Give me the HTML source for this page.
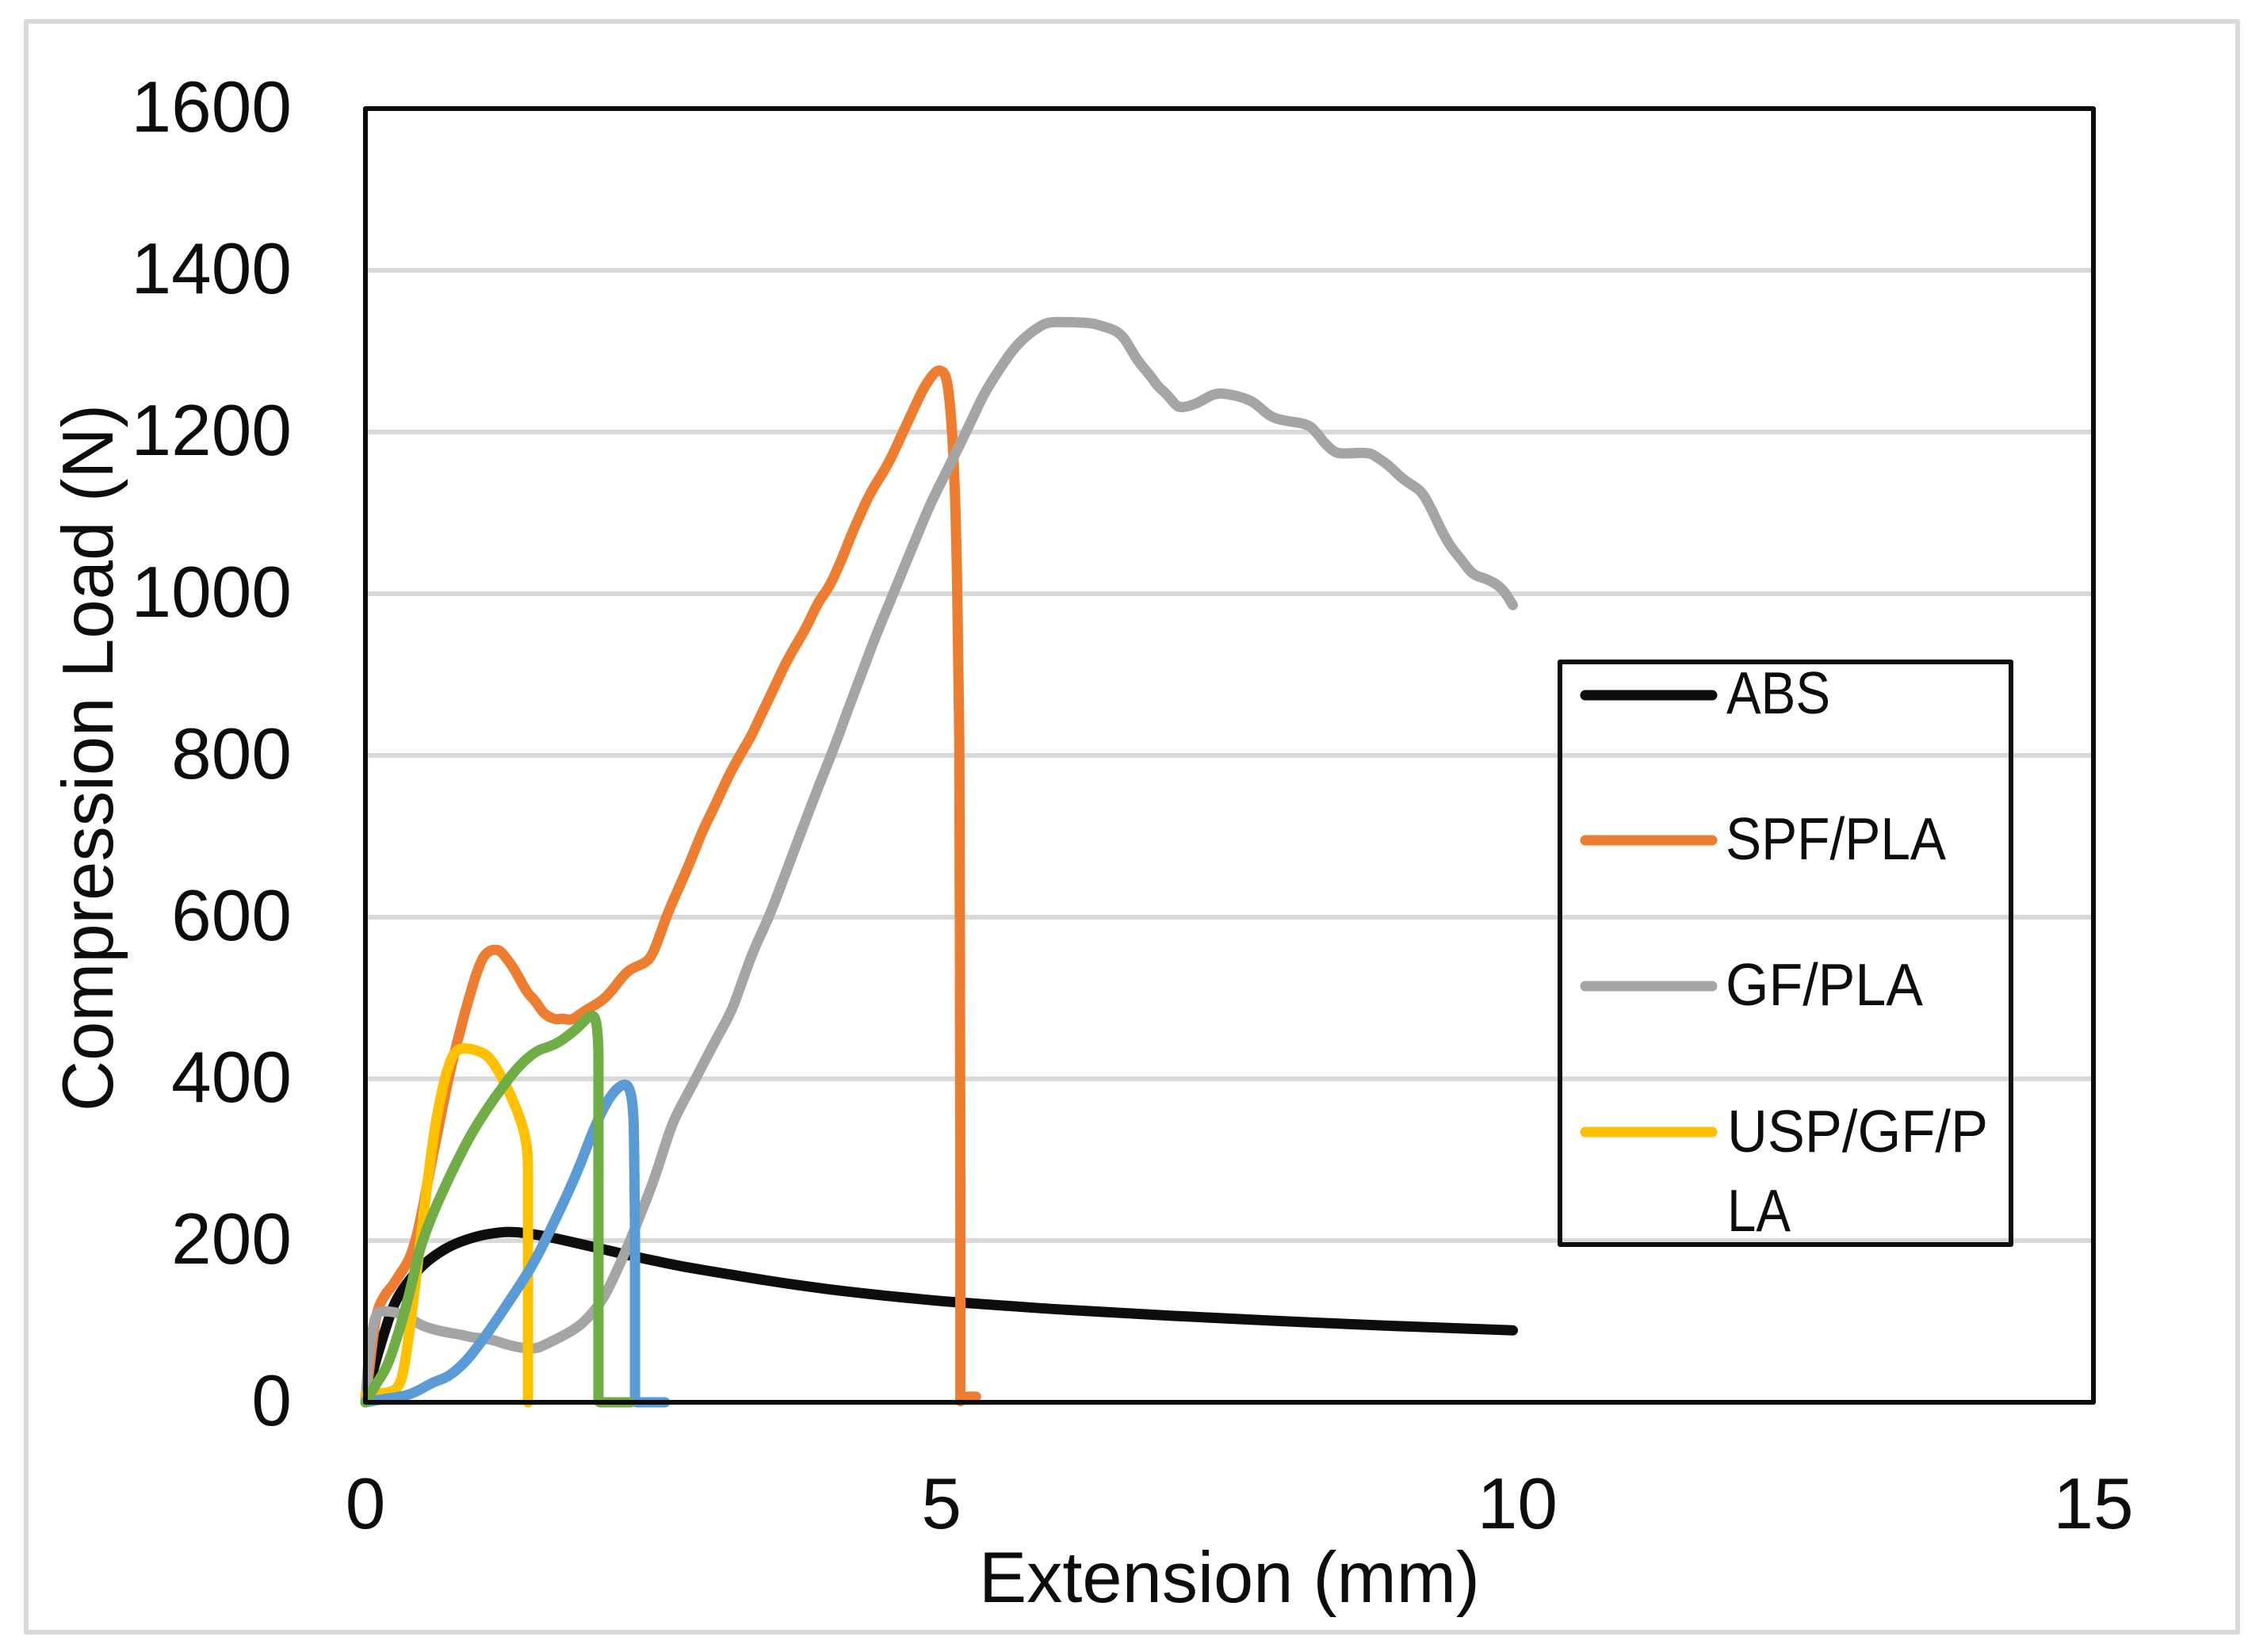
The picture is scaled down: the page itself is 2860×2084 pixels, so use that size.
<!DOCTYPE html>
<html lang="en">
<head>
<meta charset="utf-8">
<title>Compression Load vs Extension</title>
<style>
html,body{margin:0;padding:0;background:#fff;}
svg{display:block;}
text{font-family:"Liberation Sans",sans-serif;fill:#0d0d0d;}
</style>
</head>
<body>
<svg id="chart" xmlns="http://www.w3.org/2000/svg" width="2860" height="2084" viewBox="0 0 2860 2084">
  <rect x="0" y="0" width="2860" height="2084" fill="#ffffff"/>
  <rect x="33" y="27" width="2790" height="2032" fill="none" stroke="#d9d9d9" stroke-width="6" stroke-linejoin="round"/>
  <g id="grid"></g>
  <g id="yticks"></g>
  <g id="xticks"></g>
  <text x="1551" y="2021" font-size="91" text-anchor="middle" textLength="632" lengthAdjust="spacingAndGlyphs">Extension (mm)</text>
  <text transform="translate(142 956) rotate(-90)" font-size="91" text-anchor="middle" textLength="892" lengthAdjust="spacingAndGlyphs">Compression Load (N)</text>
  <g id="series"></g>
  <rect x="461" y="137" width="2180" height="1632" fill="none" stroke="#0d0d0d" stroke-width="6" stroke-linejoin="round"/>
  <g>
    <rect x="1968" y="835" width="569" height="735" fill="none" stroke="#0d0d0d" stroke-width="6" stroke-linejoin="round"/>
    <line x1="2000" y1="877" x2="2160" y2="877" stroke="#0d0d0d" stroke-width="13" stroke-linecap="round"/>
    <text x="2178" y="900" font-size="75" textLength="131" lengthAdjust="spacingAndGlyphs">ABS</text>
    <line x1="2000" y1="1060" x2="2160" y2="1060" stroke="#ed7d31" stroke-width="13" stroke-linecap="round"/>
    <text x="2177" y="1084" font-size="75" textLength="278" lengthAdjust="spacingAndGlyphs">SPF/PLA</text>
    <line x1="2000" y1="1244" x2="2160" y2="1244" stroke="#a5a5a5" stroke-width="13" stroke-linecap="round"/>
    <text x="2177" y="1268" font-size="75" textLength="249" lengthAdjust="spacingAndGlyphs">GF/PLA</text>
    <line x1="2000" y1="1428" x2="2160" y2="1428" stroke="#ffc000" stroke-width="13" stroke-linecap="round"/>
    <text x="2179" y="1453" font-size="75" textLength="329" lengthAdjust="spacingAndGlyphs">USP/GF/P</text>
    <text x="2179" y="1553" font-size="75" textLength="80" lengthAdjust="spacingAndGlyphs">LA</text>
  </g>
</svg>
<script>
const yTickValues = [0, 200, 400, 600, 800, 1000, 1200, 1400, 1600];
const xTickValues = [0, 5, 10, 15];

const absX = [0, 0.073, 0.154, 0.245, 0.36, 0.498, 0.635, 0.773, 0.956, 1.14, 1.278, 1.461, 1.644, 1.92, 2.195, 2.378, 2.745, 3.296, 3.6, 4, 4.5, 5, 6, 7, 8, 9, 9.96];
const absY = [0, 43, 82, 122, 148, 170, 185, 196, 205, 210, 211, 208, 203, 194, 185, 179, 168, 155, 148, 140, 132, 125, 115, 107, 100, 94, 89];

const spfX = [0, 0.053, 0.098, 0.167, 0.235, 0.292, 0.372, 0.429, 0.486, 0.566, 0.635, 0.715, 0.795, 0.886, 0.977, 1.046, 1.148, 1.205, 1.297, 1.4, 1.479, 1.548, 1.651, 1.719, 1.788, 1.89, 2.05, 2.14, 2.256, 2.333, 2.425, 2.482, 2.54, 2.62, 2.792, 2.93, 3.021, 3.159, 3.274, 3.343, 3.434, 3.469, 3.572, 3.664, 3.824, 3.927, 4.03, 4.143, 4.226, 4.385, 4.535, 4.673, 4.8, 4.856, 4.935, 4.983, 5.04, 5.073, 5.097, 5.12, 5.136, 5.155, 5.16, 5.165, 5.165, 5.18, 5.3];
const spfY = [0, 65, 113, 133, 144, 157, 174, 196, 231, 292, 340, 397, 445, 494, 537, 557, 561, 553, 535, 507, 496, 480, 473, 475, 472, 483, 496, 509, 531, 538, 543, 551, 571, 604, 659, 708, 734, 777, 806, 822, 850, 860, 891, 919, 957, 989, 1009, 1045, 1076, 1126, 1159, 1202, 1241, 1257, 1273, 1277, 1272, 1238, 1192, 1117, 1019, 822, 600, 200, 0, 7, 7];

const gfX = [0, 0.028, 0.062, 0.096, 0.154, 0.291, 0.429, 0.521, 0.681, 0.819, 0.933, 1.094, 1.232, 1.369, 1.484, 1.599, 1.805, 1.92, 2.057, 2.149, 2.287, 2.367, 2.493, 2.654, 2.723, 2.87, 2.999, 3.18, 3.25, 3.365, 3.503, 3.66, 3.8, 3.94, 4.075, 4.19, 4.28, 4.444, 4.58, 4.74, 4.9, 5.086, 5.224, 5.361, 5.464, 5.614, 5.73, 5.855, 5.935, 6.07, 6.3, 6.394, 6.509, 6.577, 6.635, 6.703, 6.818, 6.875, 6.956, 7.034, 7.08, 7.197, 7.288, 7.378, 7.495, 7.632, 7.722, 7.85, 7.977, 8.183, 8.264, 8.321, 8.41, 8.48, 8.71, 8.78, 8.89, 8.987, 9.078, 9.158, 9.237, 9.33, 9.42, 9.525, 9.615, 9.743, 9.87, 9.96];
const gfY = [0, 56, 91, 111, 113, 111, 100, 93, 87, 84, 80, 78, 71, 67, 66, 74, 89, 102, 126, 152, 196, 225, 270, 341, 362, 401, 437, 484, 512, 558, 600, 659, 712, 764, 812, 857, 891, 953, 999, 1055, 1110, 1163, 1203, 1245, 1269, 1301, 1318, 1331, 1336, 1336, 1335, 1331, 1326, 1318, 1305, 1288, 1269, 1257, 1247, 1233, 1230, 1234, 1241, 1248, 1247, 1242, 1236, 1219, 1214, 1210, 1198, 1187, 1175, 1173, 1175, 1169, 1158, 1144, 1135, 1128, 1110, 1081, 1058, 1040, 1023, 1018, 1007, 986];

const uspX = [0, 0.108, 0.245, 0.303, 0.337, 0.394, 0.475, 0.544, 0.612, 0.693, 0.761, 0.842, 0.979, 1.071, 1.163, 1.278, 1.369, 1.411, 1.411];
const uspY = [9, 11, 13, 23, 43, 100, 196, 279, 349, 404, 432, 439, 435, 428, 408, 375, 341, 310, 0];

const blueX = [0, 0.154, 0.314, 0.429, 0.589, 0.716, 0.865, 1.002, 1.14, 1.323, 1.461, 1.599, 1.759, 1.874, 1.989, 2.126, 2.241, 2.298, 2.328, 2.333, 2.34, 2.34, 2.6];
const blueY = [0, 4, 7, 12, 25, 31, 49, 74, 102, 141, 172, 211, 259, 297, 341, 380, 395, 389, 358, 305, 218, 0, 0];

const greenX = [0, 0.085, 0.188, 0.291, 0.383, 0.475, 0.589, 0.773, 0.933, 1.117, 1.323, 1.484, 1.599, 1.69, 1.828, 1.908, 1.961, 2.0, 2.023, 2.023, 2.3];
const greenY = [0, 21, 43, 87, 135, 192, 235, 292, 336, 376, 415, 435, 440, 446, 461, 473, 479, 476, 446, 0, 0];

const NS = 'http://www.w3.org/2000/svg';
function xScale(v) { return 461 + v * (2180 / 15); }
function yScale(v) { return 1769 - v * (1632 / 1600); }

const gridGroup = document.getElementById('grid');
const yTickGroup = document.getElementById('yticks');
const xTickGroup = document.getElementById('xticks');
const seriesGroup = document.getElementById('series');

yTickValues.forEach(function (v) {
  if (v > 0 && v < 1600) {
    const ln = document.createElementNS(NS, 'line');
    
    
    ln.setAttribute('x1', xScale(0));
    ln.setAttribute('x2', xScale(15));
    ln.setAttribute('y1', yScale(v));
    ln.setAttribute('y2', yScale(v));
    ln.setAttribute('stroke', '#d9d9d9');
    ln.setAttribute('stroke-width', '6');
    gridGroup.appendChild(ln);
  }
  const t = document.createElementNS(NS, 'text');
  
  
  t.setAttribute('x', '368');
  t.setAttribute('y', yScale(v) + 29);
  t.setAttribute('font-size', '91');
  t.setAttribute('text-anchor', 'end');
  t.textContent = String(v);
  yTickGroup.appendChild(t);
});

xTickValues.forEach(function (v) {
  const t = document.createElementNS(NS, 'text');
  
  
  t.setAttribute('x', xScale(v));
  t.setAttribute('y', '1928');
  t.setAttribute('font-size', '91');
  t.setAttribute('text-anchor', 'middle');
  t.textContent = String(v);
  xTickGroup.appendChild(t);
});

function roundedPath(xs, ys, radius) {
  const pts = xs.map(function (x, i) { return [xScale(x), yScale(ys[i])]; });
  let d = 'M' + pts[0][0].toFixed(1) + ' ' + pts[0][1].toFixed(1);
  for (let i = 1; i < pts.length - 1; i++) {
    const a = pts[i - 1], b = pts[i], c = pts[i + 1];
    const cornerRadius = ys[i] === 0 ? 3 : radius;
    const la = Math.hypot(b[0] - a[0], b[1] - a[1]) || 1;
    const lc = Math.hypot(c[0] - b[0], c[1] - b[1]) || 1;
    const ra = Math.min(la / 2, cornerRadius), rc = Math.min(lc / 2, cornerRadius);
    const p = [b[0] + (a[0] - b[0]) * ra / la, b[1] + (a[1] - b[1]) * ra / la];
    const q = [b[0] + (c[0] - b[0]) * rc / lc, b[1] + (c[1] - b[1]) * rc / lc];
    d += 'L' + p[0].toFixed(1) + ' ' + p[1].toFixed(1) + 'Q' + b[0].toFixed(1) + ' ' + b[1].toFixed(1) + ' ' + q[0].toFixed(1) + ' ' + q[1].toFixed(1);
  }
  const e = pts[pts.length - 1];
  return d + 'L' + e[0].toFixed(1) + ' ' + e[1].toFixed(1);
}

function drawSeries(xs, ys, color, name) {
  const p = document.createElementNS(NS, 'path');
  
  
  p.setAttribute('d', roundedPath(xs, ys, 22));
  p.setAttribute('fill', 'none');
  p.setAttribute('stroke', color);
  p.setAttribute('stroke-width', '13');
  p.setAttribute('stroke-linecap', 'round');
  p.setAttribute('stroke-linejoin', 'round');
  seriesGroup.appendChild(p);
}

drawSeries(absX, absY, '#0d0d0d', 'series-abs');
drawSeries(spfX, spfY, '#ed7d31', 'series-spf-pla');
drawSeries(gfX, gfY, '#a5a5a5', 'series-gf-pla');
drawSeries(uspX, uspY, '#ffc000', 'series-usp-gf-pla');
drawSeries(blueX, blueY, '#5b9bd5', 'series-blue');
drawSeries(greenX, greenY, '#70ad47', 'series-green');
</script>
</body>
</html>
